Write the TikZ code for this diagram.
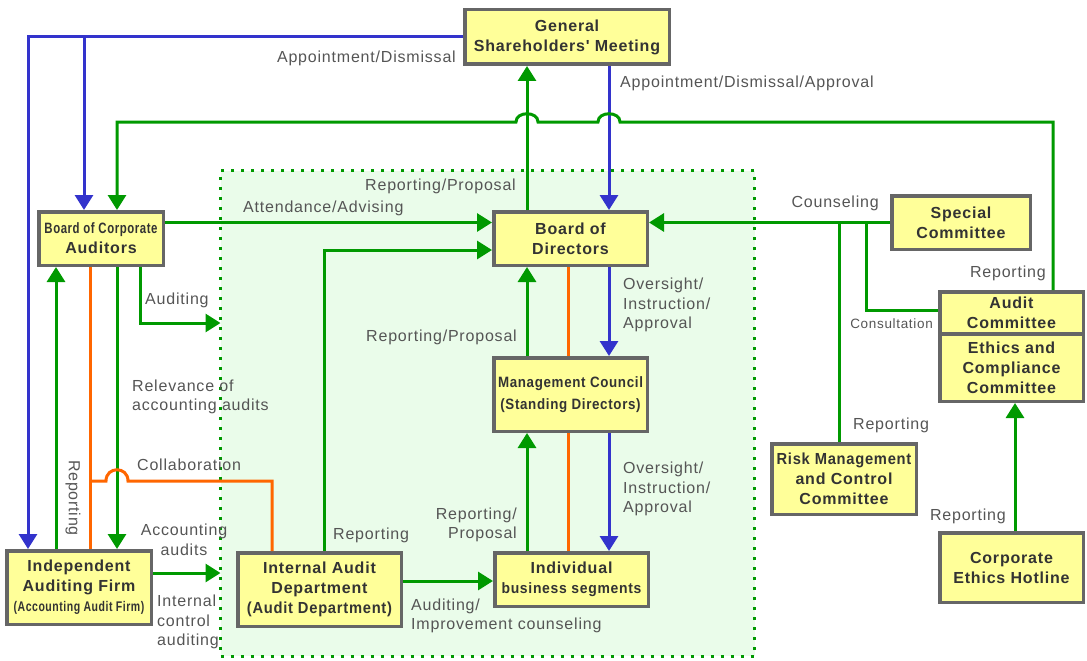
\documentclass[tikz,border=0pt]{standalone}
\usepackage{fontspec}
\usepackage{graphicx}
\usepackage{tikz}
\usetikzlibrary{arrows.meta}
\newfontfamily\gbfont[LetterSpace=5]{Liberation Sans}
\newfontfamily\glfont[LetterSpace=5]{Liberation Sans}
\definecolor{boxfill}{HTML}{FFFF99}
\definecolor{boxedge}{HTML}{666666}
\definecolor{boxtext}{HTML}{333333}
\definecolor{labtext}{HTML}{555555}
\definecolor{grn}{HTML}{009900}
\definecolor{blu}{HTML}{3333CC}
\definecolor{org}{HTML}{FF6600}
\definecolor{zonebg}{HTML}{EAFCEA}
\newcommand{\cond}[2]{\scalebox{#1}[1]{#2}}
\tikzset{
  unit/.style={draw=boxedge, fill=boxfill, line width=3.5pt, inner sep=0pt,
    align=center, text=boxtext, font=\gbfont\bfseries\fontsize{16}{20}\selectfont},
  zone/.style={draw=grn, fill=zonebg, line width=3pt, dash pattern=on 3pt off 7pt,
    inner sep=0pt, outer sep=0pt},
  grnln/.style={draw=grn, line width=3pt},
  bluln/.style={draw=blu, line width=3pt},
  orgln/.style={draw=org, line width=3pt},
  ahead/.style={-{Triangle[length=15pt,width=18pt]}},
  lab/.style={text=labtext, font=\glfont\fontsize{16}{19.5}\selectfont, inner sep=0pt}
}
\begin{document}
\begin{tikzpicture}[x=1pt, y=-1pt]
  \useasboundingbox (0,0) rectangle (1087,661);
  % dotted area of the executive side
  \node[zone, minimum width=534pt, minimum height=485.5pt] (grp) at (487.5,413.25) {};

  % boxes
  \node[unit, minimum width=204.5pt, minimum height=54.5pt] (gsm) at (567,37) {General\\Shareholders' Meeting};
  \node[unit, minimum width=124.5pt, minimum height=53.5pt] (bca) at (101,238.5)
    {\cond{0.76}{\fontsize{15}{20}\selectfont Board of Corporate}\\Auditors};
  \node[unit, minimum width=153.5pt, minimum height=53.5pt] (bod) at (570.5,238.5) {Board of\\Directors};
  \node[unit, minimum width=153.5pt, minimum height=73.5pt] (mc) at (570.5,394.5)
    {\cond{0.89}{\fontsize{15}{20}\selectfont Management Council}\\[2pt]\cond{0.89}{\fontsize{15}{20}\selectfont (Standing Directors)}};
  \node[unit, minimum width=153.5pt, minimum height=53.5pt] (ibs) at (571.5,579.5)
    {Individual\\\cond{0.93}{\fontsize{15}{20}\selectfont business segments}};
  \node[unit, minimum width=163.5pt, minimum height=73.5pt] (iad) at (319.5,589.5)
    {Internal Audit\\Department\\\cond{0.92}{(Audit Department)}};
  \node[unit, minimum width=144.5pt, minimum height=73.5pt] (iaf) at (79,587.5)
    {Independent\\Auditing Firm\\\cond{0.75}{\fontsize{14}{20}\selectfont (Accounting Audit Firm)}};
  \node[unit, minimum width=138.5pt, minimum height=53.5pt] (sc) at (961,222.5) {Special\\Committee};
  \node[unit, minimum width=143.5pt, minimum height=42.25pt] (ac) at (1011.5,312.875) {Audit\\Committee};
  \node[unit, minimum width=143.5pt, minimum height=67.25pt] (ecc) at (1011.5,367.625) {Ethics and\\Compliance\\Committee};
  \node[unit, minimum width=144.5pt, minimum height=70.5pt] (rm) at (844,479)
    {\cond{0.92}{Risk Management}\\and Control\\Committee};
  \node[unit, minimum width=143.5pt, minimum height=69.5pt] (ceh) at (1011.5,567.5) {Corporate\\Ethics Hotline};

  % columns and rows of the connectors
  \coordinate (colL) at (28,0);
  \coordinate (colB) at (84,0);
  \coordinate (colRp) at (56,0);
  \coordinate (colC) at (90,0);
  \coordinate (colM) at (117,0);
  \coordinate (colAu) at (140,0);
  \coordinate (colI) at (272,0);
  \coordinate (colIR) at (324,0);
  \coordinate (colR) at (527,0);
  \coordinate (colO) at (568,0);
  \coordinate (colA) at (609,0);
  \coordinate (colRM) at (839,0);
  \coordinate (colCs) at (866,0);
  \coordinate (colE) at (1015,0);
  \coordinate (colK) at (1053,0);
  \coordinate (rowT) at (0,122);
  \coordinate (rowA) at (0,222.5);
  \coordinate (rowB) at (0,250);
  \coordinate (rowCs) at (0,310);
  \coordinate (rowE) at (0,323);
  \coordinate (rowCol) at (0,481);
  \coordinate (rowF) at (0,573);
  \coordinate (rowD) at (0,581);

  % appointment lines
  \draw[bluln, ahead] (gsm.west) -| (iaf.north -| colL);
  \draw[bluln, ahead] (gsm.west -| colB) -- (bca.north -| colB);
  \draw[bluln, ahead] (gsm.south -| colA) -- (bod.north -| colA);
  \draw[bluln, ahead] (bod.south -| colA) -- (mc.north -| colA);
  \draw[bluln, ahead] (mc.south -| colA) -- (ibs.north -| colA);

  % reporting upwards
  \draw[grnln, ahead] (bod.north -| colR) -- (gsm.south -| colR);
  \draw[grnln, ahead] (mc.north -| colR) -- (bod.south -| colR);
  \draw[grnln, ahead] (ibs.north -| colR) -- (mc.south -| colR);
  \draw[grnln, ahead] (ac.north -| colK) -- (rowT -| colK) -- (620,122)
    .. controls (620,111) and (598,111) .. (598,122) -- (538,122)
    .. controls (538,111) and (516,111) .. (516,122) -| (bca.north -| colM);
  \draw[grnln, ahead] (bca.east |- rowA) -- (bod.west |- rowA);
  \draw[grnln, ahead] (iad.north -| colIR) |- (bod.west |- rowB);
  \draw[grnln, ahead] (iad.east |- rowD) -- (ibs.west |- rowD);
  \draw[grnln, ahead] (sc.west |- rowA) -- (bod.east |- rowA);
  \draw[grnln] (rowA -| colRM) -- (rm.north -| colRM);
  \draw[grnln] (rowA -| colCs) |- (ac.west |- rowCs);
  \draw[grnln, ahead] (ceh.north -| colE) -- (ecc.south -| colE);

  % auditors and auditing firm
  \draw[grnln, ahead] (iaf.north -| colRp) -- (bca.south -| colRp);
  \draw[grnln, ahead] (bca.south -| colM) -- (iaf.north -| colM);
  \draw[grnln, ahead] (bca.south -| colAu) |- (grp.west |- rowE);
  \draw[grnln, ahead] (iaf.east |- rowF) -- (grp.west |- rowF);
  \draw[orgln] (bca.south -| colC) -- (iaf.north -| colC);
  \draw[orgln] (rowCol -| colC) -- (106,481) .. controls (106,466) and (128,466) .. (128,481)
    -| (iad.north -| colI);
  \draw[orgln] (bod.south -| colO) -- (mc.north -| colO);
  \draw[orgln] (mc.south -| colO) -- (ibs.north -| colO);

  % labels
  \node[lab, anchor=east] (lapd) at (456,58) {Appointment/Dismissal};
  \node[lab, anchor=west] (lapa) at (620,83) {Appointment/Dismissal/Approval};
  \node[lab, anchor=east] (lrp1) at (516,186) {Reporting/Proposal};
  \node[lab, anchor=west] (latt) at (243,208) {Attendance/Advising};
  \node[lab, anchor=east] (lcou) at (879,203) {Counseling};
  \node[lab, anchor=east] (lrp2) at (1046,273) {Reporting};
  \node[lab, anchor=west, align=left] (lov1) at (623,305) {Oversight/\\Instruction/\\Approval};
  \node[lab, anchor=west] (laud) at (145,300) {Auditing};
  \node[lab, anchor=east] (lrp3) at (517,337) {Reporting/Proposal};
  \node[lab, anchor=east, font=\glfont\fontsize{13.5}{16}\selectfont] (lcon) at (933,324) {Consultation};
  \node[lab, anchor=west, align=left] (lrel) at (132,397) {Relevance of\\accounting audits};
  \node[lab, anchor=west] (lrp4) at (853,425) {Reporting};
  \node[lab, anchor=west] (lcol) at (137,465) {Collaboration};
  \node[lab, anchor=west, align=left] (lov2) at (623,489) {Oversight/\\Instruction/\\Approval};
  \node[lab, rotate=-90] (lrp5) at (73,498) {Reporting};
  \node[lab, anchor=east, align=right] (lrp6) at (517,525) {Reporting/\\Proposal};
  \node[lab, anchor=west] (lrp7) at (333,535) {Reporting};
  \node[lab, align=center] (lacc) at (184,540) {Accounting\\audits};
  \node[lab, anchor=east] (lrp8) at (1006,516) {Reporting};
  \node[lab, anchor=west, align=left] (lint) at (157,622) {Internal\\control\\auditing};
  \node[lab, anchor=west, align=left] (limp) at (411,616) {Auditing/\\Improvement counseling};
\end{tikzpicture}
\end{document}
